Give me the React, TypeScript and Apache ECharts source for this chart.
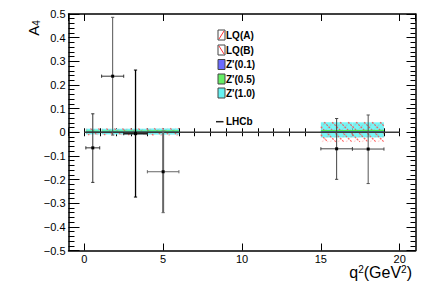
import React, { useEffect, useRef } from 'react';
import * as echarts from 'echarts';

// ---------- data ----------
const binLow = [0.1, 1.1, 2.5, 4.0, 15.0, 17.0];
const binHigh = [0.98, 2.5, 4.0, 6.0, 17.0, 19.0];

const lhcbX = [0.54, 1.8, 3.25, 5.0, 16.0, 18.0];
const lhcbY = [-0.066, 0.237, -0.006, -0.167, -0.07, -0.071];
const lhcbYLow = [-0.212, -0.012, -0.274, -0.34, -0.199, -0.217];
const lhcbYHigh = [0.078, 0.486, 0.263, 0.005, 0.058, 0.073];

const lqACenter = [0.002, 0.002, 0.002, 0.002, 0.001, 0.001];
const lqAErr = [0.014, 0.014, 0.014, 0.015, 0.042, 0.042];
const lqBCenter = [0.002, 0.002, 0.002, 0.002, 0.001, 0.001];
const lqBErr = [0.014, 0.014, 0.014, 0.015, 0.042, 0.042];
const zp01Center = [0.001, 0.001, 0.001, 0.001, 0.001, 0.001];
const zp01Err = [0.002, 0.002, 0.002, 0.002, 0.003, 0.003];
const zp05Center = [0.003, 0.003, 0.003, 0.003, 0.005, 0.005];
const zp05Err = [0.004, 0.004, 0.004, 0.005, 0.005, 0.005];
const zp10Center = [0.003, 0.003, 0.003, 0.003, 0.01, 0.01];
const zp10Err = [0.012, 0.012, 0.012, 0.013, 0.032, 0.032];

const zeroLineX = [0, 20];
const zeroLineY = [0, 0];

const legendNames = ["LQ(A)", "LQ(B)", "Z'(0.1)", "Z'(0.5)", "Z'(1.0)"];
const dataLegendName = 'LHCb';

const yMin = -0.5;
const yMax = 0.5;
const xMin = -1;
const xMax = 21;

// per-point drawing styles (not data)
const pointStyles = [
  { v: '#333', vw: 1, h: '#333', hw: 1 },
  { v: '#555', vw: 1, h: '#333', hw: 1 },
  { v: '#000', vw: 1.3, h: '#222', hw: 1.6 },
  { v: '#666', vw: 2, h: '#666', hw: 1 },
  { v: '#444', vw: 1, h: '#444', hw: 1 },
  { v: '#555', vw: 1, h: '#444', hw: 1 },
];

const FONT = '"Liberation Sans", Arial, Helvetica, sans-serif';

function bandData(center: number[], err: number[]) {
  return binLow.map((lo, i) => [lo, binHigh[i], center[i], err[i]]);
}

function fillRender(color: string, opacity: number) {
  return (params: any, api: any) => {
    const p0 = api.coord([api.value(0), api.value(2) + api.value(3)]);
    const p1 = api.coord([api.value(1), api.value(2) - api.value(3)]);
    return {
      type: 'rect',
      shape: { x: p0[0], y: p0[1], width: p1[0] - p0[0], height: p1[1] - p0[1] },
      style: { fill: color, opacity },
    };
  };
}

function hatchRender(dir: 1 | -1, color: string, spacing: number, offset: number) {
  return (params: any, api: any) => {
    const p0 = api.coord([api.value(0), api.value(2) + api.value(3)]);
    const p1 = api.coord([api.value(1), api.value(2) - api.value(3)]);
    const x0 = p0[0], x1 = p1[0], y0 = p0[1], y1 = p1[1];
    const children: any[] = [];
    const st = { stroke: color, lineWidth: 1.2, lineDash: [2, 1.2] };
    if (dir === 1) {
      const start = Math.ceil((x0 + y0 - offset) / spacing) * spacing + offset;
      for (let c = start; c <= x1 + y1; c += spacing) {
        const xa = Math.max(x0, c - y1);
        const xb = Math.min(x1, c - y0);
        if (xb - xa < 0.5) continue;
        children.push({ type: 'line', shape: { x1: xa, y1: c - xa, x2: xb, y2: c - xb }, style: st });
      }
    } else {
      const start = Math.ceil((x0 - y1 - offset) / spacing) * spacing + offset;
      for (let c = start; c <= x1 - y0; c += spacing) {
        const xa = Math.max(x0, c + y0);
        const xb = Math.min(x1, c + y1);
        if (xb - xa < 0.5) continue;
        children.push({ type: 'line', shape: { x1: xa, y1: xa - c, x2: xb, y2: xb - c }, style: st });
      }
    }
    return { type: 'group', children };
  };
}

function errorRender(params: any, api: any) {
  const i = params.dataIndex;
  const st = pointStyles[i] || pointStyles[0];
  const x = api.value(0), xl = api.value(1), xh = api.value(2);
  const y = api.value(3), yl = api.value(4), yh = api.value(5);
  const c = api.coord([x, y]);
  const pl = api.coord([xl, y]);
  const ph = api.coord([xh, y]);
  const pt = api.coord([x, yh]);
  const pb = api.coord([x, yl]);
  const cap = 1.6;
  const ln = (x1: number, y1: number, x2: number, y2: number, stroke: string, w: number) => ({
    type: 'line',
    shape: { x1, y1, x2, y2 },
    style: { stroke, lineWidth: w },
  });
  return {
    type: 'group',
    children: [
      ln(pl[0], pl[1], ph[0], ph[1], st.h, st.hw),
      ln(pl[0], pl[1] - cap, pl[0], pl[1] + cap, st.h, 1),
      ln(ph[0], ph[1] - cap, ph[0], ph[1] + cap, st.h, 1),
      ln(pt[0], pt[1], pb[0], pb[1], st.v, st.vw),
      ln(pt[0] - cap, pt[1], pt[0] + cap, pt[1], st.v, 1),
      ln(pb[0] - cap, pb[1], pb[0] + cap, pb[1], st.v, 1),
      { type: 'rect', shape: { x: c[0] - 1.5, y: c[1] - 1.5, width: 3, height: 3 }, style: { fill: '#000' } },
    ],
  };
}

function yLabel(v: number) {
  if (Math.abs(v) < 1e-9) return '0';
  return (v < 0 ? '\u2212' : '') + Math.abs(v).toFixed(1);
}

function xLabel(v: number) {
  const r = Math.round(v);
  if (Math.abs(v - r) > 1e-9 || r % 5 !== 0) return '';
  return String(r);
}

export default function App() {
  const ref = useRef<HTMLDivElement>(null);

  useEffect(() => {
    if (!ref.current) return;
    const chart = echarts.init(ref.current, undefined, { renderer: 'svg' });

    const frame = { show: true, onZero: false, lineStyle: { color: '#000', width: 1.5 } };
    const noLine = { show: false };

    const legendY = [35, 50, 64.5, 79, 93];
    const legendFills = ['#fff', '#fff', '#6a6aff', '#66ee66', '#66f2f2'];
    const legendGraphics: any[] = [];
    legendNames.forEach((name, i) => {
      const cy = legendY[i];
      legendGraphics.push({
        type: 'rect',
        shape: { x: 218, y: cy - 5, width: 7, height: 10 },
        style: { fill: legendFills[i], stroke: '#444', lineWidth: 1 },
      });
      if (i === 0) {
        legendGraphics.push({ type: 'line', shape: { x1: 219, y1: cy + 4, x2: 224, y2: cy - 4 }, style: { stroke: '#f33', lineWidth: 1 } });
      } else if (i === 1) {
        legendGraphics.push({ type: 'line', shape: { x1: 219, y1: cy - 4, x2: 224, y2: cy + 4 }, style: { stroke: '#f33', lineWidth: 1 } });
      }
      legendGraphics.push({
        type: 'text',
        x: 226,
        y: cy,
        style: { text: name, fill: '#000', font: `bold 10px ${FONT}`, verticalAlign: 'middle', align: 'left' },
      });
    });
    legendGraphics.push({ type: 'line', shape: { x1: 216, y1: 121.7, x2: 223.5, y2: 121.7 }, style: { stroke: '#222', lineWidth: 1.5 } });
    legendGraphics.push({
      type: 'text',
      x: 226,
      y: 121.7,
      style: { text: dataLegendName, fill: '#000', font: `bold 10px ${FONT}`, verticalAlign: 'middle', align: 'left' },
    });

    const option: any = {
      animation: false,
      backgroundColor: '#fff',
      textStyle: { fontFamily: FONT },
      grid: { left: 68.5, right: 17.5, top: 14, bottom: 38.5, containLabel: false },
      xAxis: [
        {
          type: 'value', min: xMin, max: xMax, position: 'bottom',
          axisLine: frame,
          axisTick: { show: true, inside: true, length: 7, lineStyle: { color: '#000', width: 1 } },
          axisLabel: { show: true, formatter: xLabel, color: '#000', fontSize: 11, fontFamily: FONT, margin: 3, showMinLabel: false, showMaxLabel: false },
          splitLine: { show: false },
        },
        {
          type: 'value', min: xMin, max: xMax, interval: 1, position: 'bottom',
          axisLine: noLine,
          axisTick: { show: true, inside: true, length: 4, lineStyle: { color: '#000', width: 1 } },
          axisLabel: { show: false },
          splitLine: { show: false },
        },
        {
          type: 'value', min: xMin, max: xMax, position: 'top',
          axisLine: frame,
          axisTick: { show: true, inside: true, length: 7, lineStyle: { color: '#000', width: 1 } },
          axisLabel: { show: false },
          splitLine: { show: false },
        },
        {
          type: 'value', min: xMin, max: xMax, interval: 1, position: 'top',
          axisLine: noLine,
          axisTick: { show: true, inside: true, length: 4, lineStyle: { color: '#000', width: 1 } },
          axisLabel: { show: false },
          splitLine: { show: false },
        },
      ],
      yAxis: [
        {
          type: 'value', min: yMin, max: yMax, interval: 0.1, position: 'left',
          axisLine: frame,
          axisTick: { show: true, inside: true, length: 11, lineStyle: { color: '#000', width: 1 } },
          minorTick: { show: true, splitNumber: 5, length: 6, lineStyle: { color: '#000', width: 1 } },
          axisLabel: { show: true, formatter: yLabel, color: '#000', fontSize: 11, fontFamily: FONT, margin: 3 },
          splitLine: { show: false },
          minorSplitLine: { show: false },
        },
        {
          type: 'value', min: yMin, max: yMax, interval: 0.1, position: 'right',
          axisLine: frame,
          axisTick: { show: true, inside: true, length: 9, lineStyle: { color: '#000', width: 1 } },
          minorTick: { show: true, splitNumber: 5, length: 5, lineStyle: { color: '#000', width: 1 } },
          axisLabel: { show: false },
          splitLine: { show: false },
          minorSplitLine: { show: false },
        },
      ],
      series: [
        { type: 'custom', name: "Z'(1.0)", data: bandData(zp10Center, zp10Err), renderItem: fillRender('#6ff5f5', 0.95), z: 2 },
        { type: 'custom', name: 'LQ(A)', data: bandData(lqACenter, lqAErr), renderItem: hatchRender(1, 'rgba(255,90,90,0.25)', 8, 0), z: 3 },
        { type: 'custom', name: 'LQ(B)', data: bandData(lqBCenter, lqBErr), renderItem: hatchRender(-1, 'rgba(255,70,70,0.8)', 8, 2), z: 3 },
        { type: 'custom', name: "Z'(0.5)", data: bandData(zp05Center, zp05Err), renderItem: fillRender('#44ee44', 0.9), z: 4 },
        { type: 'custom', name: "Z'(0.1)", data: bandData(zp01Center, zp01Err), renderItem: fillRender('#4a4aff', 0.9), z: 5 },
        {
          type: 'line', name: 'zero', data: zeroLineX.map((x, i) => [x, zeroLineY[i]]),
          symbol: 'none', lineStyle: { color: '#3a3a3a', width: 1.5 }, z: 6, silent: true,
        },
        {
          type: 'custom', name: dataLegendName,
          data: lhcbX.map((x, i) => [x, binLow[i], binHigh[i], lhcbY[i], lhcbYLow[i], lhcbYHigh[i]]),
          renderItem: errorRender, z: 7,
        },
      ],
      graphic: [
        ...legendGraphics,
        {
          type: 'text',
          x: 33,
          y: 28,
          rotation: Math.PI / 2,
          style: {
            text: 'A{s|4}',
            align: 'center',
            verticalAlign: 'middle',
            fill: '#000',
            font: `15px ${FONT}`,
            rich: { s: { fontSize: 10, fontFamily: FONT, verticalAlign: 'bottom', padding: [6, 0, 0, 0] } },
          },
        },
        {
          type: 'text',
          x: 412,
          y: 272,
          style: {
            text: 'q{s|2}(GeV{s|2})',
            align: 'right',
            verticalAlign: 'middle',
            fill: '#000',
            font: `16px ${FONT}`,
            rich: { s: { fontSize: 10, fontFamily: FONT, verticalAlign: 'top', padding: [0, 0, 6, 0] } },
          },
        },
      ],
    };

    chart.setOption(option);
    return () => chart.dispose();
  }, []);

  return (
    <div
      ref={ref}
      style={{ position: 'fixed', left: 0, top: 0, width: 433, height: 289, background: '#fff' }}
    />
  );
}
